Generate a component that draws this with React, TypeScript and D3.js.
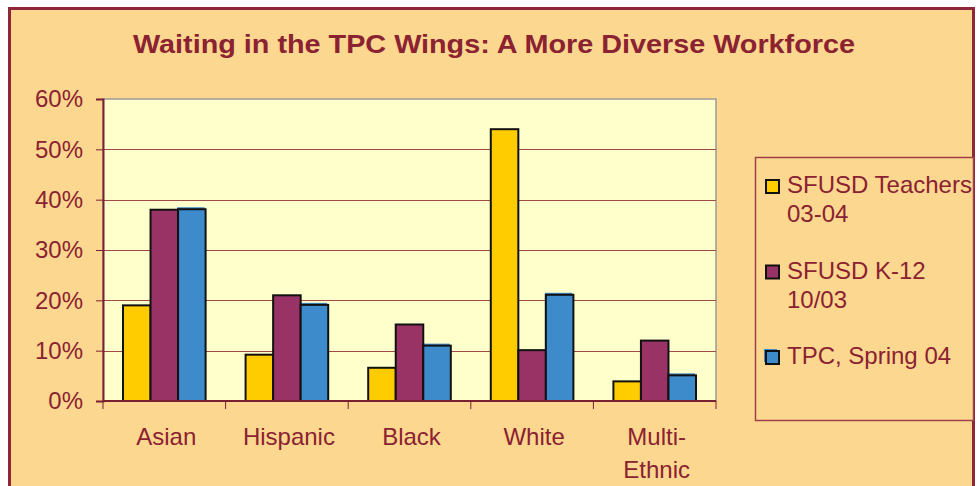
import React, { useEffect } from 'react';
import * as d3 from 'd3';

const categories = ['Asian', 'Hispanic', 'Black', 'White', 'Multi-Ethnic'];
const categoryLines = [['Asian'], ['Hispanic'], ['Black'], ['White'], ['Multi-', 'Ethnic']];
const seriesNames = ['SFUSD Teachers 03-04', 'SFUSD K-12 10/03', 'TPC, Spring 04'];
const legendLines = [['SFUSD Teachers', '03-04'], ['SFUSD K-12', '10/03'], ['TPC, Spring 04']];
const teachers = [19, 9.2, 6.6, 54, 3.9];
const k12 = [38, 21, 15.2, 10.1, 12];
const tpc = [38.1, 19.1, 11, 21.1, 5.1];
const yTicks = [0, 10, 20, 30, 40, 50, 60];
const title = 'Waiting in the TPC Wings: A More Diverse Workforce';

interface Bar {
  category: string;
  series: string;
  value: number;
}

export default function App() {
  useEffect(() => {
    const width = 980;
    const height = 486;
    const textColor = '#8B2232';
    const font = '"Liberation Sans", Arial, sans-serif';
    const colors = ['#FFCC00', '#993366', '#3E8BCB'];
    const seriesValues = [teachers, k12, tpc];

    const plot = { left: 103, right: 716, top: 99, bottom: 401 };

    const root = d3.select('#chart');
    root.selectAll('*').remove();

    const svg = root
      .append('svg')
      .attr('width', width)
      .attr('height', height)
      .style('position', 'absolute')
      .style('left', '0px')
      .style('top', '0px')
      .style('font-family', font);

    // background and outer frame
    svg.append('rect').attr('width', width).attr('height', height).attr('fill', '#ffffff');
    svg
      .append('rect')
      .attr('x', 9.5)
      .attr('y', 8.5)
      .attr('width', 964)
      .attr('height', 490)
      .attr('fill', '#FCD78F')
      .attr('stroke', '#8E2838')
      .attr('stroke-width', 3);

    svg
      .append('text')
      .attr('x', 494)
      .attr('y', 53)
      .attr('text-anchor', 'middle')
      .attr('font-size', 26)
      .attr('font-weight', 'bold')
      .attr('fill', textColor)
      .attr('textLength', 722)
      .attr('lengthAdjust', 'spacingAndGlyphs')
      .text(title);

    const bars: Bar[] = [];
    categories.forEach((c, i) => {
      seriesNames.forEach((s, j) => {
        bars.push({ category: c, series: s, value: seriesValues[j][i] });
      });
    });

    const x0 = d3.scaleBand().domain(categories).range([plot.left, plot.right]).padding(0);
    const x1 = d3
      .scaleBand()
      .domain(seriesNames)
      .range([20, x0.bandwidth() - 20])
      .padding(0);
    const y = d3.scaleLinear().domain([0, 60]).range([plot.bottom, plot.top]);
    const color = d3.scaleOrdinal<string, string>().domain(seriesNames).range(colors);

    // plot area
    svg
      .append('rect')
      .attr('x', plot.left)
      .attr('y', plot.top)
      .attr('width', plot.right - plot.left)
      .attr('height', plot.bottom - plot.top)
      .attr('fill', '#FFFFCC')
      .attr('stroke', '#9A9A9A')
      .attr('stroke-width', 1.5);

    svg
      .append('g')
      .selectAll('line')
      .data(yTicks.filter((t) => t > 0 && t < 60))
      .enter()
      .append('line')
      .attr('x1', plot.left)
      .attr('x2', plot.right)
      .attr('y1', (d) => Math.round(y(d)) + 0.5)
      .attr('y2', (d) => Math.round(y(d)) + 0.5)
      .attr('stroke', '#A0484A')
      .attr('stroke-width', 1);

    const xOf = (d: Bar) => (x0(d.category) as number) + (x1(d.series) as number);

    // blue shadow edge seen on the TPC bars
    svg
      .append('g')
      .selectAll('rect')
      .data(bars.filter((d) => d.series === seriesNames[2]))
      .enter()
      .append('rect')
      .attr('x', (d) => xOf(d) - 1)
      .attr('y', (d) => y(d.value) - 2)
      .attr('width', x1.bandwidth())
      .attr('height', (d) => plot.bottom - y(d.value))
      .attr('fill', colors[2]);

    svg
      .append('g')
      .selectAll('rect')
      .data(bars)
      .enter()
      .append('rect')
      .attr('x', xOf)
      .attr('y', (d) => y(d.value))
      .attr('width', x1.bandwidth())
      .attr('height', (d) => plot.bottom - y(d.value))
      .attr('fill', (d) => color(d.series))
      .attr('stroke', '#111')
      .attr('stroke-width', 2);

    // axes
    const yAxis = d3
      .axisLeft(y)
      .tickValues(yTicks)
      .tickSize(7)
      .tickPadding(13)
      .tickFormat((d) => `${d}%`);
    const gy = svg.append('g').attr('transform', `translate(${plot.left}, 0)`).call(yAxis);
    gy.select('.domain').attr('stroke', '#7A2030').attr('stroke-width', 2);
    gy.selectAll('.tick line').attr('stroke', '#7A2030');
    gy.selectAll('.tick text')
      .attr('fill', textColor)
      .attr('font-size', 24)
      .attr('font-family', font);

    const gx = svg.append('g');
    gx.append('line')
      .attr('x1', plot.left)
      .attr('x2', plot.right)
      .attr('y1', plot.bottom)
      .attr('y2', plot.bottom)
      .attr('stroke', '#7A2030')
      .attr('stroke-width', 2);
    const boundaries = categories.map((c) => x0(c) as number).concat([plot.right]);
    gx.selectAll('line.tick')
      .data(boundaries)
      .enter()
      .append('line')
      .attr('class', 'tick')
      .attr('x1', (d) => d)
      .attr('x2', (d) => d)
      .attr('y1', plot.bottom)
      .attr('y2', plot.bottom + 8)
      .attr('stroke', '#7A2030');

    gx.selectAll('text')
      .data(categories)
      .enter()
      .append('text')
      .attr('x', (d) => (x0(d) as number) + x0.bandwidth() / 2 + 2)
      .attr('y', 445)
      .attr('text-anchor', 'middle')
      .attr('font-size', 24)
      .attr('fill', textColor)
      .each(function (d, i) {
        const t = d3.select(this);
        categoryLines[i].forEach((line, k) => {
          t.append('tspan')
            .attr('x', (x0(d) as number) + x0.bandwidth() / 2 + 2)
            .attr('dy', k === 0 ? 0 : 33)
            .text(line);
        });
      });

    // legend
    const legend = svg.append('g');
    legend
      .append('rect')
      .attr('x', 755.5)
      .attr('y', 157.5)
      .attr('width', 218)
      .attr('height', 263)
      .attr('fill', '#FCD78F')
      .attr('stroke', '#A0404A')
      .attr('stroke-width', 1.5);

    const itemY = d3.scalePoint().domain(seriesNames).range([193, 364]);
    seriesNames.forEach((s, i) => {
      const base = itemY(s) as number;
      if (i === 2) {
        legend
          .append('rect')
          .attr('x', 764)
          .attr('y', base - 15)
          .attr('width', 13)
          .attr('height', 13)
          .attr('fill', colors[2]);
      }
      legend
        .append('rect')
        .attr('x', 766)
        .attr('y', base - 13)
        .attr('width', 13)
        .attr('height', 13)
        .attr('fill', color(s))
        .attr('stroke', '#111')
        .attr('stroke-width', 2);
      const t = legend
        .append('text')
        .attr('x', 787)
        .attr('y', base)
        .attr('font-size', 24)
        .attr('fill', textColor);
      legendLines[i].forEach((line, k) => {
        t.append('tspan')
          .attr('x', 787)
          .attr('dy', k === 0 ? 0 : 29)
          .text(line);
      });
    });
  }, []);

  return <div id="chart"></div>;
}
